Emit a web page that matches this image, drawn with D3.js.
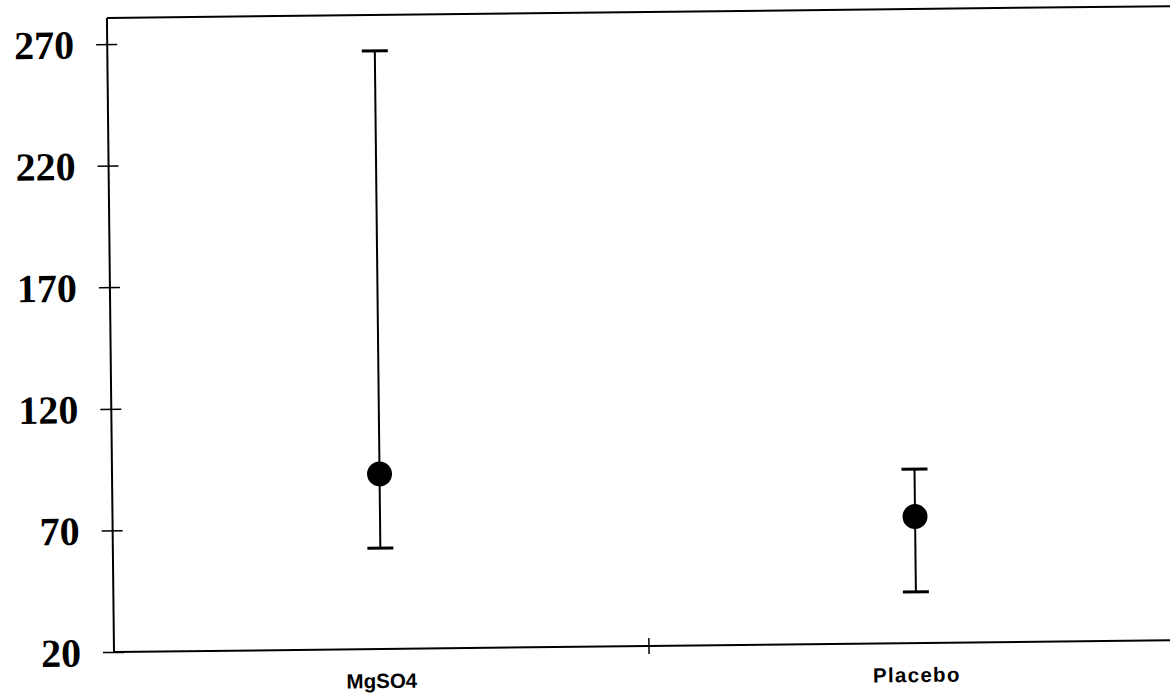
<!DOCTYPE html>
<html><head><meta charset="utf-8">
<script src="https://cdn.jsdelivr.net/npm/d3@7"></script>
<style>html,body{margin:0;padding:0;background:#fff;}svg{display:block;}</style>
</head><body>
<svg id="chart" width="1170" height="697"></svg>
<script>
const categories = ["MgSO4", "Placebo"];
const means = [92, 72];
const lowers = [61.5, 41];
const uppers = [266, 91.5];
const yTicks = [20, 70, 120, 170, 220, 270];

const svg = d3.select("#chart");
const left = 114, bottom = 652, plotW = 1070;
const g = svg.append("g").attr("transform", `rotate(-0.64, ${left}, ${bottom})`);

const y = d3.scaleLinear().domain([20, 270]).range([bottom, 44]);
const yTop = y(280.7);
const x = d3.scaleBand().domain(categories).range([left, left + plotW]).padding(0);

// frame: top line and right (offscreen)
g.append("line").attr("x1", left).attr("x2", left + plotW).attr("y1", yTop).attr("y2", yTop)
  .attr("stroke", "#000").attr("stroke-width", 2);

// y axis
const yAxis = d3.axisLeft(y).tickValues(yTicks).tickSize(11).tickPadding(22).tickFormat(d3.format("d"));
const ya = g.append("g").attr("transform", `translate(${left},0)`).call(yAxis);
ya.select(".domain").remove();
ya.selectAll(".tick line").attr("x2", 10).attr("x1", -11).attr("stroke-width", 1.5);
ya.selectAll(".tick text").attr("font-family", "'Liberation Serif', 'Times New Roman', serif")
  .attr("font-weight", "bold").attr("font-size", 40).attr("fill", "#000").attr("dy", "0.34em");
g.append("line").attr("x1", left).attr("x2", left).attr("y1", yTop).attr("y2", bottom)
  .attr("stroke", "#000").attr("stroke-width", 2);

// x axis
g.append("line").attr("x1", left).attr("x2", left + plotW).attr("y1", bottom).attr("y2", bottom)
  .attr("stroke", "#000").attr("stroke-width", 2);
const bounds = categories.slice(1).map(c => x(c));
g.selectAll(".xtick").data(bounds).enter().append("line")
  .attr("x1", d => d).attr("x2", d => d).attr("y1", bottom - 8).attr("y2", bottom + 8)
  .attr("stroke", "#000").attr("stroke-width", 1.5);
g.selectAll(".xlab").data(categories).enter().append("text")
  .attr("x", d => x(d) + x.bandwidth() / 2).attr("y", bottom + 39)
  .attr("text-anchor", "middle")
  .attr("font-family", "'Liberation Sans', Arial, sans-serif").attr("font-weight", "bold")
  .attr("font-size", 20.5).attr("letter-spacing", (d, i) => i === 1 ? 1.3 : 0)
  .text(d => d);

// error bars
const data = categories.map((c, i) => ({ c, m: means[i], lo: lowers[i], hi: uppers[i] }));
const cx = d => x(d.c) + x.bandwidth() / 2;
g.selectAll(".eb").data(data).enter().append("line")
  .attr("x1", cx).attr("x2", cx).attr("y1", d => y(d.lo)).attr("y2", d => y(d.hi))
  .attr("stroke", "#000").attr("stroke-width", 2);
["lo", "hi"].forEach(k => {
  g.selectAll(".cap" + k).data(data).enter().append("line")
    .attr("x1", d => cx(d) - 13).attr("x2", d => cx(d) + 13)
    .attr("y1", d => y(d[k])).attr("y2", d => y(d[k]))
    .attr("stroke", "#000").attr("stroke-width", 3);
});
g.selectAll(".pt").data(data).enter().append("circle")
  .attr("cx", cx).attr("cy", d => y(d.m)).attr("r", 12.5).attr("fill", "#000");
</script>
</body></html>
